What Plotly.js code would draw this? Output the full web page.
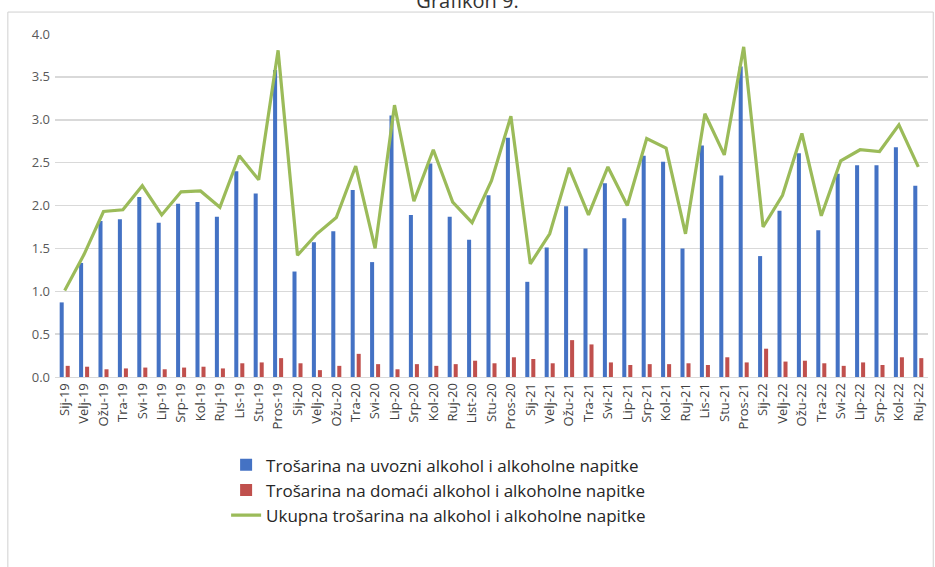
<!DOCTYPE html>
<html>
<head>
<meta charset="utf-8">
<script src="https://cdn.plot.ly/plotly-3.0.1.min.js"></script>
<style>html,body{margin:0;padding:0;background:#fff;}#chart{width:935px;height:567px;}</style>
</head>
<body>
<div id="chart"></div>
<script>
const months = ["Sij-19","Velj-19","Ožu-19","Tra-19","Svi-19","Lip-19","Srp-19","Kol-19","Ruj-19","Lis-19","Stu-19","Pros-19",
"Sij-20","Velj-20","Ožu-20","Tra-20","Svi-20","Lip-20","Srp-20","Kol-20","Ruj-20","List-20","Stu-20","Pros-20",
"Sij-21","Velj-21","Ožu-21","Tra-21","Svi-21","Lip-21","Srp-21","Kol-21","Ruj-21","Lis-21","Stu-21","Pros-21",
"Sij-22","Velj-22","Ožu-22","Tra-22","Svi-22","Lip-22","Srp-22","Kol-22","Ruj-22"];

const importedExcise = [0.87,1.33,1.82,1.84,2.10,1.80,2.02,2.04,1.87,2.40,2.14,3.58,
1.23,1.57,1.70,2.18,1.34,3.05,1.89,2.49,1.87,1.60,2.12,2.79,
1.11,1.51,1.99,1.50,2.26,1.85,2.58,2.51,1.50,2.70,2.35,3.62,
1.41,1.94,2.61,1.71,2.37,2.47,2.47,2.68,2.23];

const domesticExcise = [0.13,0.12,0.09,0.10,0.11,0.09,0.11,0.12,0.10,0.16,0.17,0.22,
0.16,0.08,0.13,0.27,0.15,0.09,0.15,0.13,0.15,0.19,0.16,0.23,
0.21,0.16,0.43,0.38,0.17,0.14,0.15,0.15,0.16,0.14,0.23,0.17,
0.33,0.18,0.19,0.16,0.13,0.17,0.14,0.23,0.22];

const totalExcise = [1.01,1.43,1.93,1.95,2.23,1.89,2.16,2.17,1.98,2.58,2.30,3.81,
1.42,1.67,1.86,2.46,1.50,3.17,2.05,2.65,2.04,1.80,2.29,3.04,
1.32,1.67,2.44,1.89,2.45,2.00,2.78,2.67,1.67,3.07,2.59,3.85,
1.75,2.12,2.84,1.88,2.52,2.65,2.63,2.94,2.45];

const seriesNames = ["Trošarina na uvozni alkohol i alkoholne napitke",
"Trošarina na domaći alkohol i alkoholne napitke",
"Ukupna trošarina na alkohol i alkoholne napitke"];

const yTicks = [0,0.5,1,1.5,2,2.5,3,3.5,4];

const traces = [
  {type:"bar", x:months, y:importedExcise, name:seriesNames[0], marker:{color:"#4472C4"}},
  {type:"bar", x:months, y:domesticExcise, name:seriesNames[1], marker:{color:"#C0504D"}},
  {type:"scatter", mode:"lines", x:months, y:totalExcise, name:seriesNames[2], line:{color:"#9BBB59", width:3.2}}
];

const layout = {
  width:935, height:567,
  margin:{l:55, r:7, t:34, b:190},
  paper_bgcolor:"#fff", plot_bgcolor:"#fff",
  font:{family:"Open Sans, Liberation Sans, sans-serif", color:"#404040"},
  title:{text:"Grafikon 9.", font:{size:20, color:"#333", family:"Open Sans, sans-serif"}, x:0.5, xanchor:"center", y:0.986, yref:"container", yanchor:"bottom"},
  barmode:"group", bargap:0.38, bargroupgap:0.33,
  showlegend:true,
  legend:{x:0.196, xanchor:"left", y:-0.205, yanchor:"top", orientation:"v", traceorder:"normal",
          font:{size:17, color:"#262626"}, itemwidth:30, tracegroupgap:0, bgcolor:"rgba(0,0,0,0)"},
  xaxis:{type:"category", range:[-0.5, months.length-0.5], tickangle:-90, tickfont:{size:13, color:"#404040"},
         showgrid:false, showline:true, linecolor:"#d9d9d9", linewidth:1, ticks:"", automargin:false},
  yaxis:{range:[0,4], tickvals:yTicks, tickformat:".1f", tickfont:{size:13, color:"#595959"},
         showgrid:true, gridcolor:"#d9d9d9", gridwidth:1.5, zeroline:false, showline:false, ticks:"",
         ticklabelstandoff:4, automargin:false},
  shapes:[
    {type:"rect", xref:"paper", yref:"paper", x0:-0.054, x1:1.006, y0:-0.56, y1:1.064,
     line:{color:"#d0d0d0", width:1}, fillcolor:"rgba(0,0,0,0)", layer:"below"}
  ]
};

Plotly.newPlot("chart", traces, layout, {displayModeBar:false, staticPlot:true});
</script>
</body>
</html>
